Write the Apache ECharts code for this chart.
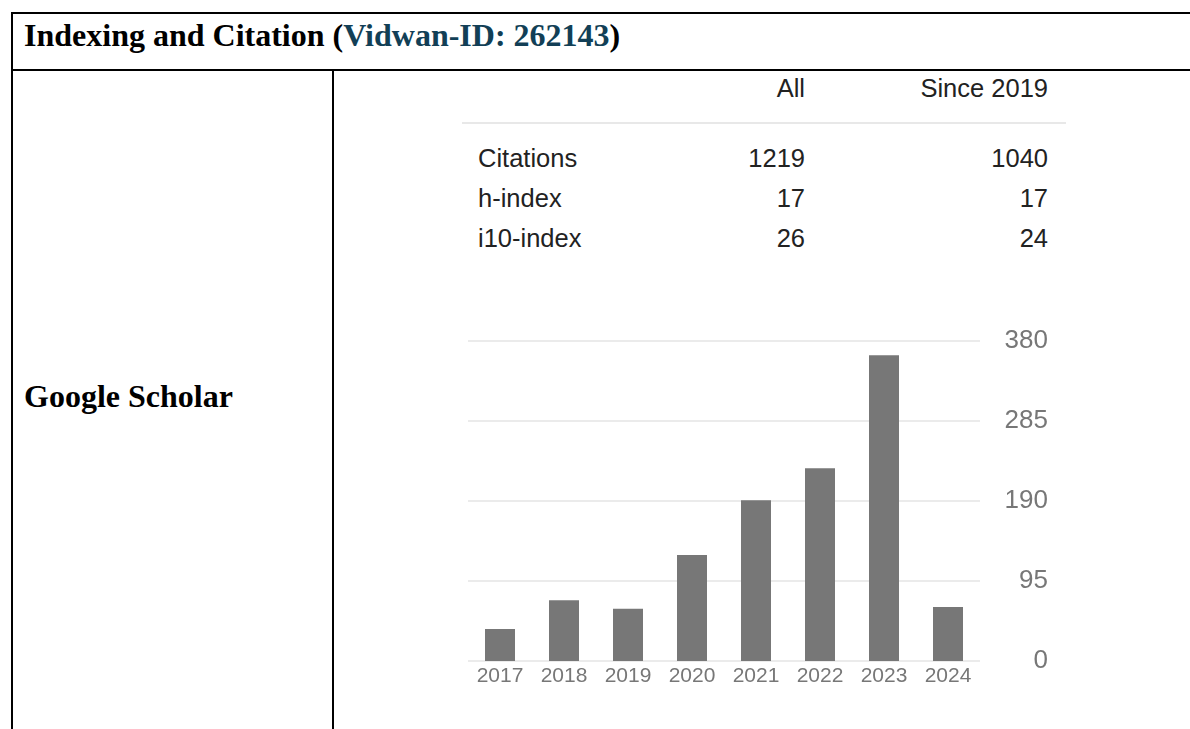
<!DOCTYPE html>
<html>
<head>
    <meta charset="utf-8" />
    <title>Indexing and Citation</title>
    <script src="https://cdn.jsdelivr.net/npm/echarts@6/dist/echarts.min.js"></script>
    <style>
        *{
            margin:0;
            padding:0;
        }
        body{
            width:1190px;
            height:729px;
            overflow:hidden;
            background:#fff;
            position:relative;
        }
        .line{
            position:absolute;
            background:#000;
        }
        .serif{
            position:absolute;
            font-family:"Liberation Serif", "Times New Roman", serif;
            font-weight:bold;
            font-size:32px;
            line-height:36px;
            color:#000;
            white-space:nowrap;
        }
        .serif span{
            color:#123f56;
        }
        .gs{
            position:absolute;
            font-family:"Liberation Sans", Arial, sans-serif;
            font-size:25.5px;
            color:#222;
            white-space:nowrap;
            line-height:30px;
        }
        .r{
            text-align:right;
        }
        .sep{
            position:absolute;
            left:462px;
            top:122px;
            width:604px;
            height:2px;
            background:#e8e8e8;
        }
        #main{
            position:absolute;
            left:0;
            top:0;
            width:1190px;
            height:729px;
        }
    </style>
</head>
<body>
<!-- table borders -->
<div class="line" style="left:11px;top:12px;width:1179px;height:2px;"></div>
<div class="line" style="left:11px;top:69px;width:1179px;height:2px;"></div>
<div class="line" style="left:11px;top:12px;width:2px;height:717px;"></div>
<div class="line" style="left:332px;top:69px;width:2px;height:660px;"></div>

<div class="serif" style="left:24px;top:17px;">Indexing and Citation (<span>Vidwan-ID: 262143</span>)</div>
<div class="serif" style="left:24px;top:378px;">Google Scholar</div>

<div id="stats"></div>
<div class="sep"></div>
<div id="main"></div>

<script type="text/javascript">
    // citation summary table
    var statHeaders = ['All', 'Since 2019'];
    var statNames = ['Citations', 'h-index', 'i10-index'];
    var statAll = [1219, 17, 26];
    var statSince = [1040, 17, 24];

    // citations per year
    var years = ['2017', '2018', '2019', '2020', '2021', '2022', '2023', '2024'];
    var citations = [38, 72, 62, 126, 191, 229, 363, 64];
    var yTicks = [0, 95, 190, 285, 380];

    var box = document.getElementById('stats');
    function cell(text, left, y, width, right) {
        var d = document.createElement('div');
        d.className = 'gs' + (right ? ' r' : '');
        d.style.left = left + 'px';
        d.style.top = y + 'px';
        d.style.width = width + 'px';
        d.textContent = text;
        box.appendChild(d);
    }
    cell(statHeaders[0], 605, 73, 200, true);
    cell(statHeaders[1], 848, 73, 200, true);
    for (var i = 0; i < statNames.length; i++) {
        var rowY = 143 + i * 40;
        cell(statNames[i], 478, rowY, 200, false);
        cell(String(statAll[i]), 605, rowY, 200, true);
        cell(String(statSince[i]), 848, rowY, 200, true);
    }

    var myChart = echarts.init(document.getElementById('main'));

    var option = {
        animation: false,
        grid: {
            left: 468,
            right: 210,
            top: 341,
            bottom: 68
        },
        xAxis: {
            type: 'category',
            data: years,
            axisLine: {show: false},
            axisTick: {show: false},
            axisLabel: {
                color: '#777',
                fontFamily: 'Liberation Sans, Arial, sans-serif',
                fontSize: 21,
                margin: 5
            }
        },
        yAxis: {
            type: 'value',
            position: 'right',
            min: yTicks[0],
            max: yTicks[yTicks.length - 1],
            interval: yTicks[1] - yTicks[0],
            axisLine: {show: false},
            axisTick: {show: false},
            axisLabel: {
                color: '#777',
                fontFamily: 'Liberation Sans, Arial, sans-serif',
                fontSize: 26,
                align: 'right',
                margin: 68
            },
            splitLine: {
                lineStyle: {color: '#ebebeb', width: 2}
            }
        },
        series: [{
            type: 'bar',
            data: citations,
            barWidth: 30,
            itemStyle: {color: '#777'}
        }]
    };

    myChart.setOption(option);
</script>
</body>
</html>
